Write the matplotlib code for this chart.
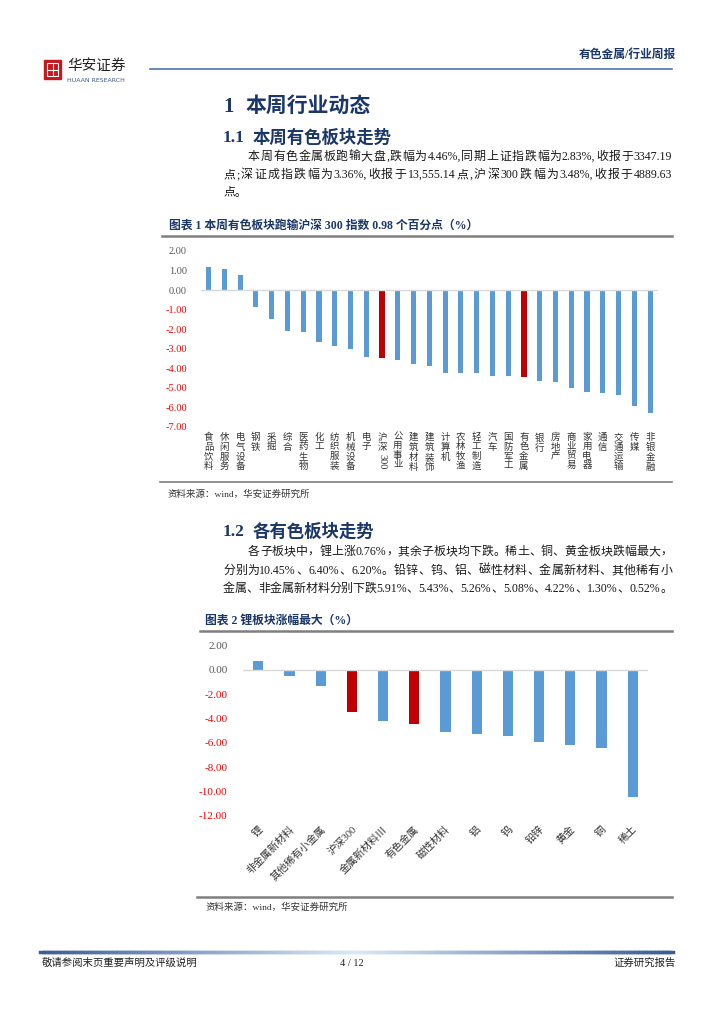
import numpy as np
import matplotlib
matplotlib.use("Agg")
import matplotlib.pyplot as plt
from matplotlib.patches import Rectangle
from matplotlib.lines import Line2D
from matplotlib.transforms import blended_transform_factory

plt.rcParams['font.family'] = ['Liberation Serif', 'Noto Sans CJK SC', 'DejaVu Sans']

# chart 1: sector weekly change (%)
sectors = ['食品饮料', '休闲服务', '电气设备', '钢铁', '采掘', '综合', '医药生物', '化工',
           '纺织服装', '机械设备', '电子', '沪深300', '公用事业', '建筑材料', '建筑装饰',
           '计算机', '农林牧渔', '轻工制造', '汽车', '国防军工', '有色金属', '银行',
           '房地产', '商业贸易', '家用电器', '通信', '交通运输', '传媒', '非银金融']
sector_chg = [1.20, 1.06, 0.75, -0.87, -1.49, -2.08, -2.15, -2.63,
              -2.85, -2.99, -3.43, -3.48, -3.59, -3.78, -3.86,
              -4.22, -4.22, -4.26, -4.39, -4.41, -4.46, -4.66,
              -4.71, -5.00, -5.19, -5.26, -5.38, -5.94, -6.28]

# chart 2: non-ferrous sub-sectors (%)
subsectors = ['锂', '非金属新材料', '其他稀有小金属', '沪深300', '金属新材料Ⅲ', '有色金属',
              '磁性材料', '铝', '钨', '铅锌', '黄金', '铜', '稀土']
sub_chg = [0.76, -0.52, -1.30, -3.48, -4.22, -4.46, -5.08, -5.26, -5.43, -5.91, -6.20, -6.40, -10.45]

highlight = ['沪深300', '有色金属']

W, H = 724, 1024
fig = plt.figure(figsize=(7.24, 10.24), dpi=100)
renderer = fig.canvas.get_renderer()

NAVY = '#1B3668'
BLUE = '#5B9BD5'
RED = '#C00000'
GRAY = '#595959'
TXT = '#1A1A1A'


def fx(x):
    return x / W


def fy(y):
    return 1 - y / H


def hline(x0, x1, y, color, lw):
    fig.add_artist(Line2D([fx(x0), fx(x1)], [fy(y), fy(y)], color=color, lw=lw))


def justified(text, x0, x1, y, size, color=TXT):
    # spread characters over the full line width, like a justified paragraph
    chunks, buf = [], ''
    for ch in text:
        if ord(ch) < 128 and ch != ' ':
            buf += ch
        else:
            if buf:
                chunks.append(buf)
                buf = ''
            if ch != ' ':
                chunks.append(ch)
    if buf:
        chunks.append(buf)
    arts = [fig.text(0, fy(y), c, fontsize=size, color=color, va='center') for c in chunks]
    widths = [a.get_window_extent(renderer).width for a in arts]
    gap = (x1 - x0 - sum(widths)) / (len(arts) - 1)
    x = x0
    for a, w in zip(arts, widths):
        a.set_x(fx(x))
        x += w + gap


# ---- page header ----
fig.add_artist(Rectangle((fx(44), fy(79)), 17 / W, 19 / H, color='#C8161D'))
fig.add_artist(Rectangle((fx(47), fy(76)), 11 / W, 13 / H, fill=False, ec='white', lw=0.8))
hline(47, 58, 69.5, 'white', 0.8)
fig.add_artist(Line2D([fx(52.5), fx(52.5)], [fy(63), fy(76)], color='white', lw=0.8))
fig.text(fx(67), fy(66), '华安证券', fontsize=10.5, color='#222222', va='center',
         family=['Noto Sans CJK SC'])
fig.text(fx(67), fy(80), 'HUAAN RESEARCH', fontsize=4.5, color='#3B5B8C', va='center',
         family=['DejaVu Sans'])
hline(150, 672, 69, '#4F73B0', 1.2)
fig.text(fx(676), fy(55), '有色金属/行业周报', fontsize=8.5, color=NAVY, ha='right',
         va='center', weight='bold')

# ---- section 1 ----
fig.text(fx(223), fy(107), '1', fontsize=15, color=NAVY, va='center', weight='bold')
fig.text(fx(245), fy(107), '本周行业动态', fontsize=15, color=NAVY, va='center', weight='bold')
fig.text(fx(223), fy(138), '1.1', fontsize=12.5, color=NAVY, va='center', weight='bold')
fig.text(fx(253), fy(138), '本周有色板块走势', fontsize=12.5, color=NAVY, va='center', weight='bold')

justified('本周有色金属板跑输大盘,跌幅为4.46%,同期上证指跌幅为2.83%,收报于 3347.19',
          248, 672, 157, 8.6)
justified('点;深证成指跌幅为 3.36%,收报于 13,555.14 点,沪深 300 跌幅为 3.48%,收报于 4889.63',
          223, 672, 175, 8.6)
fig.text(fx(223), fy(193), '点。', fontsize=8.6, color=TXT, va='center')

fig.text(fx(169), fy(226), '图表 1 本周有色板块跑输沪深 300 指数 0.98 个百分点（%）',
         fontsize=8.5, color=NAVY, va='center', weight='bold')
hline(162, 672, 235.5, '#7F7F7F', 1.8)

ax1 = fig.add_axes([fx(200.7), fy(427), (658 - 200.7) / W, 176 / H])
x1 = np.arange(len(sectors))
ax1.bar(x1, sector_chg, width=0.33,
        color=[RED if s in highlight else BLUE for s in sectors])
ax1.set_xlim(-0.5, len(sectors) - 0.5)
ax1.set_ylim(-7, 2)
ticks1 = np.arange(-7, 3, 1)
ax1.set_yticks(ticks1)
ax1.set_yticklabels([f'{v:.2f}' for v in ticks1])
for lbl, v in zip(ax1.get_yticklabels(), ticks1):
    lbl.set_color('#FF0000' if v < 0 else GRAY)
ax1.tick_params(axis='y', length=0, pad=10, labelsize=7.5)
ax1.set_xticks([])
ax1.axhline(0, color='#D9D9D9', lw=1)
for s in ax1.spines.values():
    s.set_visible(False)

tr1 = blended_transform_factory(ax1.transData, ax1.transAxes)
for i, name in enumerate(sectors):
    if name == '沪深300':
        ax1.text(i, -0.034, '沪\n深', transform=tr1, ha='center', va='top',
                 fontsize=6.8, linespacing=1.1, color='#333333')
        ax1.text(i, -0.155, '300', transform=tr1, ha='center', va='top',
                 fontsize=7.5, rotation=-90, color='#333333')
    else:
        ax1.text(i, -0.034, '\n'.join(name), transform=tr1, ha='center', va='top',
                 fontsize=6.8, linespacing=1.1, color='#333333')

hline(160, 672, 482, '#7F7F7F', 1.2)
fig.text(fx(168), fy(494), '资料来源：wind，华安证券研究所', fontsize=6.8, color='#333333', va='center')

# ---- section 1.2 ----
fig.text(fx(223), fy(532), '1.2', fontsize=12.5, color=NAVY, va='center', weight='bold')
fig.text(fx(253), fy(532), '各有色板块走势', fontsize=12.5, color=NAVY, va='center', weight='bold')

justified('各子板块中，锂上涨 0.76%，其余子板块均下跌。稀土、铜、黄金板块跌幅最大，',
          248, 672, 552, 8.6)
justified('分别为 10.45%、6.40%、6.20%。铅锌、钨、铝、磁性材料、金属新材料、其他稀有小',
          223, 672, 571, 8.6)
justified('金属、非金属新材料分别下跌 5.91%、5.43%、5.26%、5.08%、4.22%、1.30%、0.52%。',
          223, 672, 589, 8.6)

fig.text(fx(205), fy(621), '图表 2 锂板块涨幅最大（%）', fontsize=8.5, color=NAVY,
         va='center', weight='bold')
hline(200, 672, 631, '#7F7F7F', 1.8)

ax2 = fig.add_axes([fx(242.7), fy(815.7), (648.3 - 242.7) / W, 170 / H])
x2 = np.arange(len(subsectors))
ax2.bar(x2, sub_chg, width=0.33,
        color=[RED if s in highlight else BLUE for s in subsectors])
ax2.set_xlim(-0.5, len(subsectors) - 0.5)
ax2.set_ylim(-12, 2)
ticks2 = np.arange(-12, 3, 2)
ax2.set_yticks(ticks2)
ax2.set_yticklabels([f'{v:.2f}' for v in ticks2])
for lbl, v in zip(ax2.get_yticklabels(), ticks2):
    lbl.set_color('#FF0000' if v < 0 else GRAY)
ax2.tick_params(axis='y', length=0, pad=11, labelsize=8)
ax2.set_xticks([])
ax2.axhline(0, color='#D9D9D9', lw=1)
for s in ax2.spines.values():
    s.set_visible(False)

tr2 = blended_transform_factory(ax2.transData, ax2.transAxes)
for i, name in enumerate(subsectors):
    ax2.text(i + 0.1, -0.072, name, transform=tr2, ha='right', va='center',
             rotation=45, rotation_mode='anchor', fontsize=7.5, color='#333333')

hline(197, 672, 896.5, '#7F7F7F', 1.8)
fig.text(fx(205), fy(907), '资料来源：wind，华安证券研究所', fontsize=6.8, color='#333333', va='center')

# ---- footer ----
xs = np.linspace(40, 672, 160)
for a, b in zip(xs[:-1], xs[1:]):
    t = abs((a + b) / 2 - 356) / 316
    c = (1 - t) * np.array([0.86, 0.91, 0.97]) + t * np.array([0.22, 0.36, 0.58])
    hline(a, b + 0.5, 951.5, tuple(c), 2.5)
fig.text(fx(42), fy(963), '敬请参阅末页重要声明及评级说明', fontsize=7.5, color='#222222', va='center')
fig.text(fx(352), fy(963), '4 / 12', fontsize=7.5, color='#222222', va='center', ha='center')
fig.text(fx(676), fy(963), '证券研究报告', fontsize=7.5, color='#222222', va='center', ha='right')

fig.savefig('out.png', dpi=100)
